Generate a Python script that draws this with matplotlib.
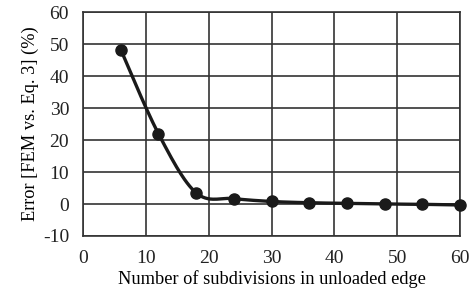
import numpy as np
from matplotlib import pyplot as plt

# data
subdivisions = [6, 12, 18, 24, 30, 36, 42, 48, 54, 60]
error = [48.3, 22.0, 3.5, 1.7, 0.8, 0.4, 0.2, 0.0, -0.1, -0.3]
x_ticks = [0, 10, 20, 30, 40, 50, 60]
y_ticks = [-10, 0, 10, 20, 30, 40, 50, 60]


def smooth_curve(x, y, n=30):
    # Excel-style smoothed line: cubic Bezier with Catmull-Rom tangents
    x = np.asarray(x, float)
    y = np.asarray(y, float)
    px, py = [], []
    for i in range(len(x) - 1):
        i0 = max(i - 1, 0)
        i3 = min(i + 2, len(x) - 1)
        p0 = np.array([x[i], y[i]])
        p3 = np.array([x[i + 1], y[i + 1]])
        c1 = p0 + (p3 - np.array([x[i0], y[i0]])) / 6
        c2 = p3 - (np.array([x[i3], y[i3]]) - p0) / 6
        t = np.linspace(0, 1, n)[:, None]
        b = ((1 - t) ** 3) * p0 + 3 * ((1 - t) ** 2) * t * c1 + 3 * (1 - t) * t ** 2 * c2 + t ** 3 * p3
        px.extend(b[:, 0])
        py.extend(b[:, 1])
    return np.array(px), np.array(py)


plt.rcParams['font.family'] = ['Liberation Serif', 'DejaVu Serif']
plt.rcParams['font.size'] = 13.2
plt.rcParams['axes.unicode_minus'] = False

fig = plt.figure(figsize=(4.73, 2.95), dpi=100)
ax = fig.add_axes([0.1755, 0.2, 0.797, 0.759])

sx, sy = smooth_curve(subdivisions, error)
ax.plot(sx, sy, color='#1a1a1a', lw=2.4, zorder=3, clip_on=False)
ax.plot(subdivisions, error, 'o', color='#1a1a1a', ms=8, zorder=4, clip_on=False)

ax.set_xlim(0, 60)
ax.set_ylim(-10, 60)
ax.set_xticks(x_ticks)
ax.set_yticks(y_ticks)
ax.grid(True, color='#333333', lw=1.2)
ax.set_axisbelow(True)
for s in ax.spines.values():
    s.set_color('#333333')
    s.set_linewidth(1.2)
ax.tick_params(axis='y', length=0, pad=10, colors='#222222', labelsize=14)
ax.tick_params(axis='x', length=0, pad=10, colors='#222222', labelsize=14)

ax.set_xlabel("Number of subdivisions in unloaded edge", labelpad=2)
ax.set_ylabel("Error [FEM vs. Eq. 3] (%)", labelpad=3)

fig.savefig("out.png", dpi=100)
